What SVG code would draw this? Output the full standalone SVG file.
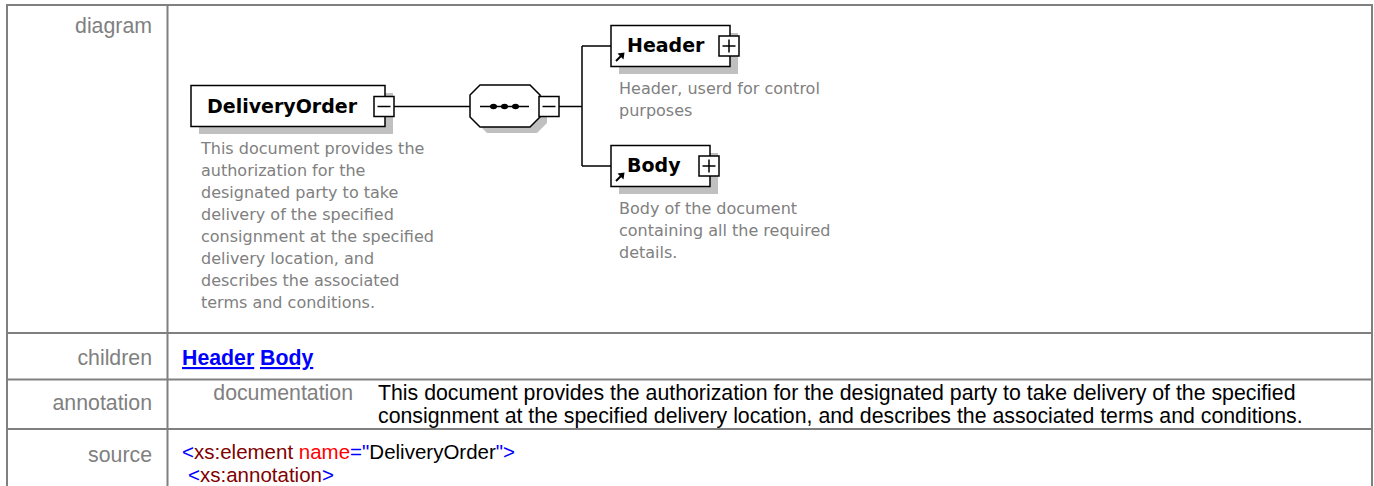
<svg xmlns="http://www.w3.org/2000/svg" xmlns:xlink="http://www.w3.org/1999/xlink" width="1374" height="486" viewBox="0 0 1374 486">
  <style>
    .grid { stroke: #808080; stroke-width: 2; fill: none; }
    .lbl { font-family: "Liberation Sans", Arial, sans-serif; font-size: 21.3px; fill: #808080; text-anchor: end; }
    .txt { font-family: "Liberation Sans", Arial, sans-serif; font-size: 21.3px; fill: #000; }
    .code { font-family: "Liberation Sans", Arial, sans-serif; font-size: 20.5px; fill: #000; }
    .link { font-family: "Liberation Sans", Arial, sans-serif; font-size: 21.3px; font-weight: bold; fill: #0000ff; text-decoration: underline; }
    .box { fill: #fff; stroke: #000; stroke-width: 1.5; }
    .shadow { fill: #c0c0c0; }
    .name { font-family: "DejaVu Sans", Verdana, sans-serif; font-size: 19px; font-weight: bold; fill: #000; }
    .desc { font-family: "DejaVu Sans", Verdana, sans-serif; font-size: 16px; fill: #808080; }
    .conn { stroke: #000; stroke-width: 1.5; fill: none; }
    .tag { fill: #0000ff; }
    .el { fill: #800000; }
    .at { fill: #ff0000; }
  </style>
  <defs>
    <!-- collapse / expand toggles -->
    <g id="minus">
      <rect x="0" y="0" width="20" height="20" class="box"/>
      <path d="M3.5 10 H16.5" class="conn"/>
    </g>
    <g id="plus">
      <rect x="0" y="0" width="20" height="20" class="box"/>
      <path d="M3.5 10 H16.5 M10 3.5 V16.5" class="conn"/>
    </g>
    <!-- reference marker in the lower-left corner of an element box -->
    <g id="ref">
      <path d="M1 9 L6 4" stroke="#000" stroke-width="2"/>
      <path d="M9.5 0.5 L2.5 1.5 L8.5 7.5 Z" fill="#000"/>
    </g>
  </defs>

  <rect x="0" y="0" width="1374" height="486" fill="#fff"/>

  <!-- table grid -->
  <g id="table">
    <path class="grid" d="M7 496 V5 H1372 V496"/>
    <path class="grid" d="M167.5 5 V496"/>
    <path class="grid" d="M7 333 H1372 M7 379.5 H1372 M7 429 H1372"/>
  </g>

  <!-- row labels -->
  <g id="labels">
    <text class="lbl" x="152" y="33">diagram</text>
    <text class="lbl" x="152" y="365">children</text>
    <text class="lbl" x="152" y="410">annotation</text>
    <text class="lbl" x="152" y="462">source</text>
  </g>

  <!-- schema diagram: connectors -->
  <g id="connectors">
    <path class="conn" d="M394 106.5 H470"/>
    <path class="conn" d="M559 106.5 H582 M582 46 V166 M582 46 H611 M582 166 H611"/>
  </g>

  <g id="DeliveryOrder">
    <rect class="shadow" x="199" y="93" width="194" height="41"/>
    <rect class="box" x="191" y="85.5" width="194" height="41"/>
    <text class="name" x="207" y="113">DeliveryOrder</text>
    <use xlink:href="#minus" x="374" y="96.5"/>
    <text class="desc">
      <tspan x="201" y="154">This document provides the</tspan>
      <tspan x="201" y="176">authorization for the</tspan>
      <tspan x="201" y="198">designated party to take</tspan>
      <tspan x="201" y="220">delivery of the specified</tspan>
      <tspan x="201" y="242">consignment at the specified</tspan>
      <tspan x="201" y="264">delivery location, and</tspan>
      <tspan x="201" y="286">describes the associated</tspan>
      <tspan x="201" y="308">terms and conditions.</tspan>
    </text>
  </g>

  <g id="sequence">
    <polygon class="shadow" points="487,91 537,91 547,101 547,123 537,133 487,133 477,123 477,101"/>
    <polygon class="box" points="480,85 530,85 540,95 540,117 530,127 480,127 470,117 470,95"/>
    <path class="conn" d="M480 106.5 H529"/>
    <ellipse cx="493.5" cy="106.5" rx="3.5" ry="2.7"/>
    <ellipse cx="504.5" cy="106.5" rx="3.5" ry="2.7"/>
    <ellipse cx="515.5" cy="106.5" rx="3.5" ry="2.7"/>
    <use xlink:href="#minus" x="539" y="96.5"/>
  </g>

  <g id="Header">
    <rect class="shadow" x="619" y="33" width="119" height="41"/>
    <rect class="box" x="611" y="25.5" width="119" height="41"/>
    <text class="name" x="627" y="52">Header</text>
    <use xlink:href="#plus" x="719" y="36"/>
    <use xlink:href="#ref" x="615" y="52"/>
    <text class="desc">
      <tspan x="619" y="94">Header, userd for control</tspan>
      <tspan x="619" y="116">purposes</tspan>
    </text>
  </g>

  <g id="Body">
    <rect class="shadow" x="619" y="153" width="99" height="41"/>
    <rect class="box" x="611" y="145.5" width="99" height="41"/>
    <text class="name" x="627" y="172">Body</text>
    <use xlink:href="#plus" x="699" y="156"/>
    <use xlink:href="#ref" x="615" y="172"/>
    <text class="desc">
      <tspan x="619" y="214">Body of the document</tspan>
      <tspan x="619" y="236">containing all the required</tspan>
      <tspan x="619" y="258">details.</tspan>
    </text>
  </g>

  <!-- children row -->
  <g id="children">
    <text class="link" x="182" y="365">Header</text>
    <text class="link" x="260" y="365">Body</text>
  </g>

  <!-- annotation row -->
  <g id="annotation">
    <text class="lbl" x="353" y="400">documentation</text>
    <text class="txt">
      <tspan x="378" y="400">This document provides the authorization for the designated party to take delivery of the specified</tspan>
      <tspan x="378" y="423">consignment at the specified delivery location, and describes the associated terms and conditions.</tspan>
    </text>
  </g>

  <!-- source row -->
  <g id="source">
    <text class="code" x="182" y="459"><tspan class="tag">&lt;</tspan><tspan class="el">xs:element</tspan><tspan class="at"> name</tspan><tspan class="tag">="</tspan>DeliveryOrder<tspan class="tag">"&gt;</tspan></text>
    <text class="code" x="188" y="482"><tspan class="tag">&lt;</tspan><tspan class="el">xs:annotation</tspan><tspan class="tag">&gt;</tspan></text>
  </g>
</svg>
